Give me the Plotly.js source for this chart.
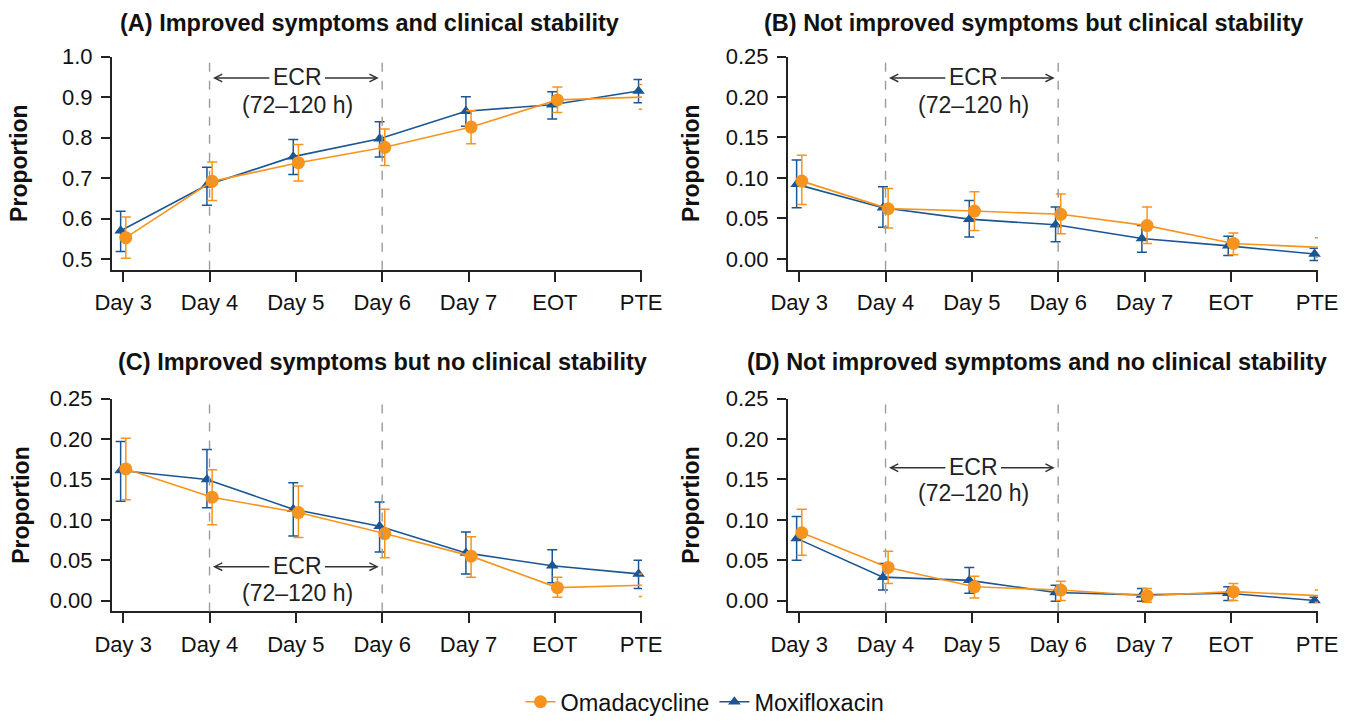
<!DOCTYPE html>
<html>
<head>
<meta charset="utf-8">
<script src="https://cdn.plot.ly/plotly-3.0.1.min.js"></script>
<style>html,body{margin:0;padding:0;background:#fff;}#chart{width:1350px;height:724px;}</style>
</head>
<body>
<div id="chart"></div>
<script>
const categories = ['Day 3','Day 4','Day 5','Day 6','Day 7','EOT','PTE'];
const seriesNames = ['Omadacycline','Moxifloxacin'];
const panelTitles = [
  '(A) Improved symptoms and clinical stability',
  '(B) Not improved symptoms but clinical stability',
  '(C) Improved symptoms but no clinical stability',
  '(D) Not improved symptoms and no clinical stability'
];

// Panel A
const omaA    = [0.553, 0.692, 0.738, 0.776, 0.826, 0.893, 0.900];
const omaA_lo = [0.502, 0.645, 0.693, 0.731, 0.785, 0.862, 0.870];
const omaA_hi = [0.604, 0.740, 0.783, 0.821, 0.866, 0.925, 0.931];
const moxA    = [0.570, 0.683, 0.753, 0.797, 0.865, 0.881, 0.915];
const moxA_lo = [0.519, 0.633, 0.709, 0.752, 0.828, 0.846, 0.886];
const moxA_hi = [0.618, 0.727, 0.795, 0.839, 0.901, 0.913, 0.943];

// Panel B
const omaB    = [0.096, 0.062, 0.059, 0.055, 0.041, 0.019, 0.014];
const omaB_lo = [0.067, 0.038, 0.035, 0.031, 0.019, 0.005, 0.002];
const omaB_hi = [0.128, 0.087, 0.083, 0.080, 0.064, 0.032, 0.026];
const moxB    = [0.092, 0.063, 0.049, 0.042, 0.025, 0.016, 0.006];
const moxB_lo = [0.063, 0.039, 0.027, 0.021, 0.008, 0.004, -0.002];
const moxB_hi = [0.122, 0.089, 0.072, 0.064, 0.041, 0.028, 0.013];

// Panel C
const omaC    = [0.163, 0.128, 0.109, 0.083, 0.055, 0.016, 0.019];
const omaC_lo = [0.125, 0.094, 0.078, 0.053, 0.029, 0.004, 0.005];
const omaC_hi = [0.201, 0.162, 0.142, 0.113, 0.079, 0.029, 0.033];
const moxC    = [0.161, 0.150, 0.113, 0.092, 0.059, 0.043, 0.033];
const moxC_lo = [0.123, 0.115, 0.080, 0.060, 0.033, 0.022, 0.015];
const moxC_hi = [0.197, 0.187, 0.146, 0.122, 0.085, 0.063, 0.050];

// Panel D
const omaD    = [0.084, 0.041, 0.017, 0.013, 0.006, 0.011, 0.006];
const omaD_lo = [0.056, 0.021, 0.003, 0.000, -0.002, 0.000, -0.002];
const omaD_hi = [0.113, 0.061, 0.030, 0.024, 0.015, 0.021, 0.013];
const moxD    = [0.077, 0.029, 0.025, 0.010, 0.007, 0.009, 0.000];
const moxD_lo = [0.050, 0.013, 0.009, -0.001, -0.001, 0.000, -0.002];
const moxD_hi = [0.104, 0.046, 0.041, 0.019, 0.015, 0.017, 0.004];

const panels = [
  {oma: omaA, omaLo: omaA_lo, omaHi: omaA_hi, mox: moxA, moxLo: moxA_lo, moxHi: moxA_hi},
  {oma: omaB, omaLo: omaB_lo, omaHi: omaB_hi, mox: moxB, moxLo: moxB_lo, moxHi: moxB_hi},
  {oma: omaC, omaLo: omaC_lo, omaHi: omaC_hi, mox: moxC, moxLo: moxC_lo, moxHi: moxC_hi},
  {oma: omaD, omaLo: omaD_lo, omaHi: omaD_hi, mox: moxD, moxLo: moxD_lo, moxHi: moxD_hi}
];

const ORANGE = '#F7941E';
const BLUE = '#1A5693';
const FONT = 'Liberation Sans, Arial, Helvetica, sans-serif';
const dodge = 0.03;
const idx = categories.map((c, i) => i);

const traces = [];
panels.forEach((p, k) => {
  const xa = k === 0 ? 'x' : 'x' + (k + 1);
  const ya = k === 0 ? 'y' : 'y' + (k + 1);
  traces.push({
    type: 'scatter', mode: 'lines+markers', name: seriesNames[1],
    x: idx.map(i => i - dodge), y: p.mox, xaxis: xa, yaxis: ya,
    line: {color: BLUE, width: 1.6},
    marker: {symbol: 'triangle-up', size: 11, color: BLUE},
    error_y: {type: 'data', symmetric: false,
      array: p.moxHi.map((h, i) => h - p.mox[i]),
      arrayminus: p.mox.map((v, i) => v - p.moxLo[i]),
      color: BLUE, thickness: 1.5, width: 5},
    showlegend: k === 0, legendrank: 2, cliponaxis: false
  });
  traces.push({
    type: 'scatter', mode: 'lines+markers', name: seriesNames[0],
    x: idx.map(i => i + dodge), y: p.oma, xaxis: xa, yaxis: ya,
    line: {color: ORANGE, width: 1.6},
    marker: {symbol: 'circle', size: 13, color: ORANGE},
    error_y: {type: 'data', symmetric: false,
      array: p.omaHi.map((h, i) => h - p.oma[i]),
      arrayminus: p.oma.map((v, i) => v - p.omaLo[i]),
      color: ORANGE, thickness: 1.5, width: 5},
    showlegend: k === 0, legendrank: 1, cliponaxis: false
  });
});

const W = 1350, H = 724;
const xDomL = [112 / W, 642 / W], xDomR = [788 / W, 1318 / W];
const yDomT = [1 - 273.5 / H, 1 - 57.3 / H], yDomB = [1 - 620 / H, 1 - 404.3 / H];
const xRange = [-0.13, 6.01];

function xaxisDef(domain, anchor) {
  return {
    domain: domain, anchor: anchor, range: xRange,
    tickmode: 'array', tickvals: idx, ticktext: categories,
    showline: true, linecolor: '#222', linewidth: 2,
    ticks: 'outside', ticklen: 10, tickwidth: 2, tickcolor: '#222',
    showgrid: false, zeroline: false,
    tickfont: {family: FONT, size: 22, color: '#111'}, ticklabelstandoff: 2
  };
}
function yaxisDef(domain, anchor, range, dtick, fmt, standoff) {
  return {
    domain: domain, anchor: anchor, range: range,
    tick0: 0, dtick: dtick, tickformat: fmt,
    showline: true, linecolor: '#222', linewidth: 2,
    ticks: 'outside', ticklen: 9, tickwidth: 2, tickcolor: '#222',
    showgrid: false, zeroline: false,
    tickfont: {family: FONT, size: 22, color: '#111'}, ticklabelstandoff: 4,
    title: {text: '<b>Proportion</b>', font: {family: FONT, size: 23, color: '#111'}, standoff: standoff}
  };
}

const yRangeA = [0.474, 1.0];
const yRangeO = [-0.0135, 0.25];

const shapes = [];
['x', 'x2', 'x3', 'x4'].forEach((xa, k) => {
  const ya = k === 0 ? 'y' : 'y' + (k + 1);
  [1, 3].forEach(v => {
    shapes.push({type: 'line', xref: xa, x0: v, x1: v, yref: ya + ' domain', y0: 0, y1: 1,
      line: {color: '#9a9a9a', width: 1.4, dash: 'dash'}});
  });
});

// ECR annotation levels per panel: [arrow line y, second line y]
const ecrLevels = [[0.947, 0.888], [0.2235, 0.194], [0.042, 0.0135], [0.1645, 0.1365]];
const annotations = [];
ecrLevels.forEach((lv, k) => {
  const xa = k === 0 ? 'x' : 'x' + (k + 1);
  const ya = k === 0 ? 'y' : 'y' + (k + 1);
  annotations.push({xref: xa, yref: ya, x: 1.04, y: lv[0], axref: xa, ayref: ya, ax: 1.71, ay: lv[0],
    text: '', showarrow: true, arrowhead: 5, arrowsize: 1, arrowwidth: 1.5, arrowcolor: '#333'});
  annotations.push({xref: xa, yref: ya, x: 2.96, y: lv[0], axref: xa, ayref: ya, ax: 2.32, ay: lv[0],
    text: '', showarrow: true, arrowhead: 5, arrowsize: 1, arrowwidth: 1.5, arrowcolor: '#333'});
  annotations.push({xref: xa, yref: ya, x: 2.02, y: lv[0], text: 'ECR', showarrow: false,
    font: {family: FONT, size: 23, color: '#222'}, xanchor: 'center', yanchor: 'middle', yshift: 1});
  annotations.push({xref: xa, yref: ya, x: 2.02, y: lv[1], text: '(72–120 h)', showarrow: false,
    font: {family: FONT, size: 23, color: '#222'}, xanchor: 'center', yanchor: 'middle', yshift: -3});
});

const titlePos = [[369, 23], [1033, 23], [382, 367], [1037, 367]];
panelTitles.forEach((t, k) => {
  annotations.push({xref: 'paper', yref: 'paper', x: titlePos[k][0] / W, y: 1 - titlePos[k][1] / H,
    text: '<b>' + t + '</b>', showarrow: false, xanchor: 'center', yanchor: 'middle',
    font: {family: FONT, size: 23.5, color: '#111'}});
});

const layout = {
  width: W, height: H,
  margin: {l: 0, r: 0, t: 0, b: 0},
  paper_bgcolor: '#fff', plot_bgcolor: '#fff',
  font: {family: FONT, size: 22, color: '#111'},
  xaxis: xaxisDef(xDomL, 'y'),
  yaxis: yaxisDef(yDomT, 'x', yRangeA, 0.1, '.1f', 28),
  xaxis2: xaxisDef(xDomR, 'y2'),
  yaxis2: yaxisDef(yDomT, 'x2', yRangeO, 0.05, '.2f', 20),
  xaxis3: xaxisDef(xDomL, 'y3'),
  yaxis3: yaxisDef(yDomB, 'x3', yRangeO, 0.05, '.2f', 14),
  xaxis4: xaxisDef(xDomR, 'y4'),
  yaxis4: yaxisDef(yDomB, 'x4', yRangeO, 0.05, '.2f', 20),
  shapes: shapes,
  annotations: annotations,
  showlegend: true,
  legend: {orientation: 'h', x: 705 / W, xanchor: 'center', y: 1 - 712 / H, yanchor: 'middle',
    font: {family: FONT, size: 23.5, color: '#111'}, itemwidth: 30, bgcolor: 'rgba(0,0,0,0)',
    traceorder: 'normal'}
};

Plotly.newPlot('chart', traces, layout, {displayModeBar: false, staticPlot: true});
</script>
</body>
</html>
